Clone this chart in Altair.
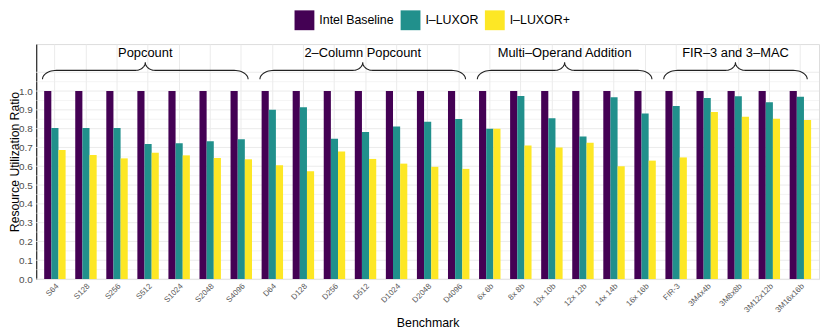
import math
import altair as alt
import pandas as pd

categories = ["S64", "S128", "S256", "S512", "S1024", "S2048", "S4096",
              "D64", "D128", "D256", "D512", "D1024", "D2048", "D4096",
              "6x 6b", "8x 8b", "10x 10b", "12x 12b", "14x 14b", "16x 16b",
              "FIR-3", "3M4x4b", "3M8x8b", "3M12x12b", "3M16x16b"]
series = ["Intel Baseline", "I\u2013LUXOR", "I\u2013LUXOR+"]
baseline = [1.0] * 25
iluxor = [0.803, 0.803, 0.803, 0.719, 0.723, 0.733, 0.744,
          0.900, 0.914, 0.747, 0.782, 0.812, 0.837, 0.851,
          0.800, 0.974, 0.856, 0.758, 0.967, 0.881,
          0.921, 0.963, 0.972, 0.940, 0.970]
iluxor_plus = [0.686, 0.660, 0.642, 0.672, 0.658, 0.644, 0.637,
               0.605, 0.574, 0.679, 0.639, 0.614, 0.597, 0.586,
               0.800, 0.711, 0.700, 0.725, 0.600, 0.630,
               0.647, 0.888, 0.863, 0.853, 0.846]
groups = ["Popcount", "2\u2013Column Popcount", "Multi\u2013Operand Addition", "FIR\u20133 and 3\u2013MAC"]
group_sizes = [7, 7, 6, 5]
colors = ["#440154", "#21908C", "#FDE725"]

rows = []
for i, c in enumerate(categories):
    for s, vals in zip(series, [baseline, iluxor, iluxor_plus]):
        rows.append({"bench": c, "series": s, "ratio": vals[i]})
df = pd.DataFrame(rows)

# brace geometry (decoration) in category-index units
Y_END, Y_LINE, Y_TIP, Y_LAB = 1.063, 1.11, 1.153, 1.2
W_END, W_TIP = 0.45, 0.32
brace_rows, lab_rows = [], []
start = 1
for g, n in zip(groups, group_sizes):
    f, l = start, start + n - 1
    x0, x1 = f - 0.4, l + 0.22
    xm = (x0 + x1) / 2
    pts = []
    K = 12
    for k in range(K + 1):
        t = k / K * math.pi / 2
        pts.append((x0 + W_END * (1 - math.cos(t)), Y_END + (Y_LINE - Y_END) * math.sin(t)))
    for k in range(K + 1):
        t = k / K * math.pi / 2
        pts.append((xm - W_TIP + W_TIP * math.sin(t), Y_LINE + (Y_TIP - Y_LINE) * (1 - math.cos(t))))
    for k in range(K, -1, -1):
        t = k / K * math.pi / 2
        pts.append((xm + W_TIP - W_TIP * math.sin(t), Y_LINE + (Y_TIP - Y_LINE) * (1 - math.cos(t))))
    for k in range(K, -1, -1):
        t = k / K * math.pi / 2
        pts.append((x1 - W_END * (1 - math.cos(t)), Y_END + (Y_LINE - Y_END) * math.sin(t)))
    for j, (px, py) in enumerate(pts):
        brace_rows.append({"group": g, "k": j, "bx": px, "by": py})
    lab_rows.append({"group": g, "lx": xm, "ly": Y_LAB})
    start += n
brace_df = pd.DataFrame(brace_rows)
lab_df = pd.DataFrame(lab_rows)

major_df = pd.DataFrame({"gy": [round(i * 0.1, 2) for i in range(12)]})
minor_df = pd.DataFrame({"gy": [round(0.05 + i * 0.1, 2) for i in range(11)]})

yscale = alt.Scale(domain=[0, 1.25], nice=False, zero=True)
xq = alt.Scale(domain=[0.4, 25.6], nice=False, zero=False)

y_axis = alt.Axis(title="Resource Utilization Ratio", values=[round(i * 0.1, 1) for i in range(11)],
                  format=".1f", grid=False, ticks=False, domain=True,
                  domainColor="black", domainWidth=1, labelFontSize=10,
                  labelColor="#4d4d4d", labelPadding=4, titleFontSize=12.3,
                  titleFontWeight="normal", titleColor="black", titleX=-21.5,
                  titleY=118.5, titleBaseline="middle", titleAngle=-90)

grid_minor = alt.Chart(minor_df).mark_rule(color="#ededed", strokeWidth=0.6).encode(
    y=alt.Y("gy:Q", scale=yscale, axis=y_axis, title="Resource Utilization Ratio"))
grid_major = alt.Chart(major_df).mark_rule(color="#ebebeb", strokeWidth=1).encode(
    y=alt.Y("gy:Q", scale=yscale, axis=y_axis, title="Resource Utilization Ratio"))

bars = alt.Chart(df).mark_bar().encode(
    x=alt.X("bench:N", sort=categories,
            scale=alt.Scale(paddingInner=0.31, paddingOuter=0.255),
            axis=alt.Axis(title="Benchmark", labelAngle=-45, labelAlign="right",
                          labelBaseline="top", labelFontSize=8, labelColor="#5a5a5a",
                          labelPadding=3, ticks=False, domain=False, grid=True,
                          gridColor="#ebebeb", gridWidth=1, bandPosition=0.5,
                          titleFontSize=12.5, titleFontWeight="normal", titleColor="black",
                          titleY=48, titleBaseline="alphabetic", labelOverlap=False)),
    xOffset=alt.XOffset("series:N", sort=series,
                        scale=alt.Scale(paddingInner=0, paddingOuter=0)),
    y=alt.Y("ratio:Q", scale=yscale, axis=y_axis, title="Resource Utilization Ratio"),
    color=alt.Color("series:N", sort=series,
                    scale=alt.Scale(domain=series, range=colors),
                    legend=alt.Legend(title=None, orient="none", direction="horizontal",
                                      legendX=260.5, legendY=-34, symbolType="square",
                                      symbolSize=400, symbolStrokeWidth=0, labelFontSize=12.5,
                                      labelColor="black", labelOffset=5, columnPadding=6,
                                      padding=0, symbolOpacity=1)),
)

brace = alt.Chart(brace_df).mark_line(color="#222222", strokeWidth=1.1).encode(
    x=alt.X("bx:Q", scale=xq, axis=None),
    y=alt.Y("by:Q", scale=yscale, axis=y_axis, title="Resource Utilization Ratio"),
    detail="group:N",
    order="k:Q",
)
labels = alt.Chart(lab_df).mark_text(fontSize=13, color="black", font="Liberation Sans").encode(
    x=alt.X("lx:Q", scale=xq, axis=None),
    y=alt.Y("ly:Q", scale=yscale, axis=y_axis, title="Resource Utilization Ratio"),
    text="group:N",
)

chart = alt.layer(grid_minor, grid_major, bars, brace, labels).resolve_scale(
    x="independent"
).properties(
    width=789.5, height=237,
    autosize=alt.AutoSizeParams(type="none"),
    padding={"left": 28.5, "top": 35, "right": 3, "bottom": 50},
).configure_view(stroke=None).configure(font="Liberation Sans")

chart.save("out.html", embed_options={"renderer": "svg", "actions": False})
